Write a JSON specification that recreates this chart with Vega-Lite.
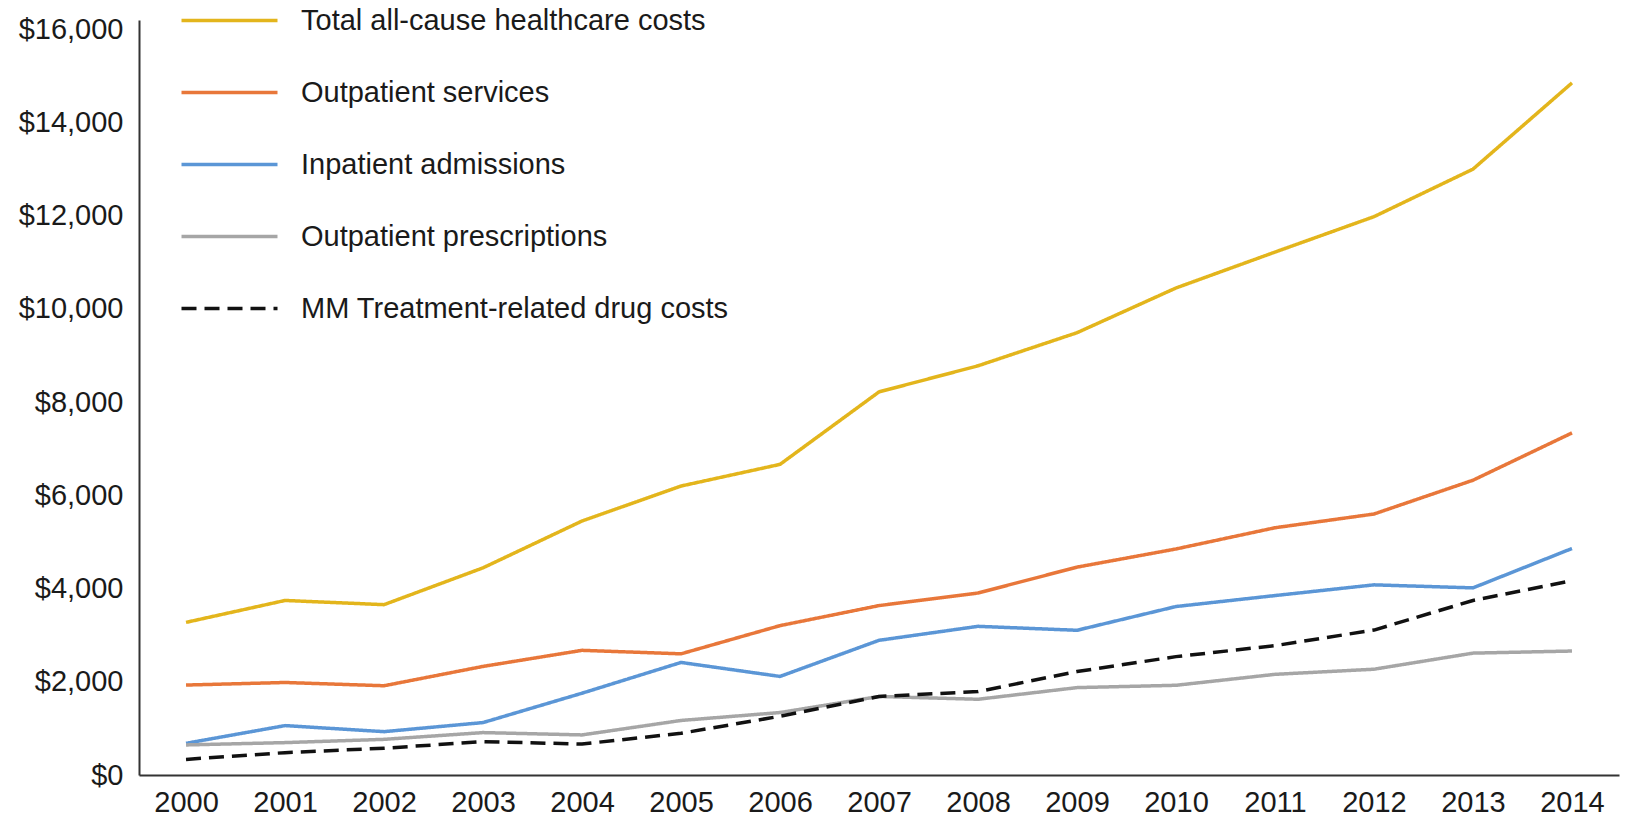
{
  "$schema": "https://vega.github.io/schema/vega-lite/v6.json",
  "width": 1480,
  "height": 755,
  "autosize": {"type": "none"},
  "padding": {"left": 139, "top": 20, "right": 8, "bottom": 42},
  "background": "white",
  "config": {"view": {"stroke": null}, "font": "Liberation Sans"},
  "data": {"values": [
    {"year": 2000, "series": "Total all-cause healthcare costs", "cost": 3275},
    {"year": 2001, "series": "Total all-cause healthcare costs", "cost": 3745},
    {"year": 2002, "series": "Total all-cause healthcare costs", "cost": 3655},
    {"year": 2003, "series": "Total all-cause healthcare costs", "cost": 4445},
    {"year": 2004, "series": "Total all-cause healthcare costs", "cost": 5450},
    {"year": 2005, "series": "Total all-cause healthcare costs", "cost": 6200},
    {"year": 2006, "series": "Total all-cause healthcare costs", "cost": 6665},
    {"year": 2007, "series": "Total all-cause healthcare costs", "cost": 8220},
    {"year": 2008, "series": "Total all-cause healthcare costs", "cost": 8780},
    {"year": 2009, "series": "Total all-cause healthcare costs", "cost": 9490},
    {"year": 2010, "series": "Total all-cause healthcare costs", "cost": 10450},
    {"year": 2011, "series": "Total all-cause healthcare costs", "cost": 11220},
    {"year": 2012, "series": "Total all-cause healthcare costs", "cost": 11980},
    {"year": 2013, "series": "Total all-cause healthcare costs", "cost": 13000},
    {"year": 2014, "series": "Total all-cause healthcare costs", "cost": 14850},
    {"year": 2000, "series": "Outpatient services", "cost": 1930},
    {"year": 2001, "series": "Outpatient services", "cost": 1985},
    {"year": 2002, "series": "Outpatient services", "cost": 1915},
    {"year": 2003, "series": "Outpatient services", "cost": 2330},
    {"year": 2004, "series": "Outpatient services", "cost": 2675},
    {"year": 2005, "series": "Outpatient services", "cost": 2600},
    {"year": 2006, "series": "Outpatient services", "cost": 3205},
    {"year": 2007, "series": "Outpatient services", "cost": 3635},
    {"year": 2008, "series": "Outpatient services", "cost": 3905},
    {"year": 2009, "series": "Outpatient services", "cost": 4460},
    {"year": 2010, "series": "Outpatient services", "cost": 4850},
    {"year": 2011, "series": "Outpatient services", "cost": 5305},
    {"year": 2012, "series": "Outpatient services", "cost": 5600},
    {"year": 2013, "series": "Outpatient services", "cost": 6325},
    {"year": 2014, "series": "Outpatient services", "cost": 7340},
    {"year": 2000, "series": "Inpatient admissions", "cost": 680},
    {"year": 2001, "series": "Inpatient admissions", "cost": 1060},
    {"year": 2002, "series": "Inpatient admissions", "cost": 930},
    {"year": 2003, "series": "Inpatient admissions", "cost": 1125},
    {"year": 2004, "series": "Inpatient admissions", "cost": 1755},
    {"year": 2005, "series": "Inpatient admissions", "cost": 2415},
    {"year": 2006, "series": "Inpatient admissions", "cost": 2115},
    {"year": 2007, "series": "Inpatient admissions", "cost": 2890},
    {"year": 2008, "series": "Inpatient admissions", "cost": 3190},
    {"year": 2009, "series": "Inpatient admissions", "cost": 3105},
    {"year": 2010, "series": "Inpatient admissions", "cost": 3615},
    {"year": 2011, "series": "Inpatient admissions", "cost": 3850},
    {"year": 2012, "series": "Inpatient admissions", "cost": 4080},
    {"year": 2013, "series": "Inpatient admissions", "cost": 4015},
    {"year": 2014, "series": "Inpatient admissions", "cost": 4860},
    {"year": 2000, "series": "Outpatient prescriptions", "cost": 645},
    {"year": 2001, "series": "Outpatient prescriptions", "cost": 695},
    {"year": 2002, "series": "Outpatient prescriptions", "cost": 765},
    {"year": 2003, "series": "Outpatient prescriptions", "cost": 910},
    {"year": 2004, "series": "Outpatient prescriptions", "cost": 860},
    {"year": 2005, "series": "Outpatient prescriptions", "cost": 1170},
    {"year": 2006, "series": "Outpatient prescriptions", "cost": 1340},
    {"year": 2007, "series": "Outpatient prescriptions", "cost": 1685},
    {"year": 2008, "series": "Outpatient prescriptions", "cost": 1625},
    {"year": 2009, "series": "Outpatient prescriptions", "cost": 1875},
    {"year": 2010, "series": "Outpatient prescriptions", "cost": 1925},
    {"year": 2011, "series": "Outpatient prescriptions", "cost": 2160},
    {"year": 2012, "series": "Outpatient prescriptions", "cost": 2270},
    {"year": 2013, "series": "Outpatient prescriptions", "cost": 2615},
    {"year": 2014, "series": "Outpatient prescriptions", "cost": 2660},
    {"year": 2000, "series": "MM Treatment-related drug costs", "cost": 335},
    {"year": 2001, "series": "MM Treatment-related drug costs", "cost": 480},
    {"year": 2002, "series": "MM Treatment-related drug costs", "cost": 575},
    {"year": 2003, "series": "MM Treatment-related drug costs", "cost": 715},
    {"year": 2004, "series": "MM Treatment-related drug costs", "cost": 665},
    {"year": 2005, "series": "MM Treatment-related drug costs", "cost": 895},
    {"year": 2006, "series": "MM Treatment-related drug costs", "cost": 1260},
    {"year": 2007, "series": "MM Treatment-related drug costs", "cost": 1685},
    {"year": 2008, "series": "MM Treatment-related drug costs", "cost": 1790},
    {"year": 2009, "series": "MM Treatment-related drug costs", "cost": 2220},
    {"year": 2010, "series": "MM Treatment-related drug costs", "cost": 2540},
    {"year": 2011, "series": "MM Treatment-related drug costs", "cost": 2775},
    {"year": 2012, "series": "MM Treatment-related drug costs", "cost": 3110},
    {"year": 2013, "series": "MM Treatment-related drug costs", "cost": 3745},
    {"year": 2014, "series": "MM Treatment-related drug costs", "cost": 4170}
  ]},
  "mark": {"type": "line", "strokeCap": "butt", "strokeJoin": "round"},
  "encoding": {
    "x": {
      "field": "year", "type": "ordinal",
      "scale": {"type": "point", "padding": 0.475},
      "axis": {"title": null, "labelAngle": 0, "labelFontSize": 29, "labelColor": "#1a1a1a", "ticks": false, "domainColor": "#333333", "domainWidth": 2, "labelPadding": 13, "grid": false}
    },
    "y": {
      "field": "cost", "type": "quantitative",
      "scale": {"domain": [0, 16200], "nice": false, "zero": true},
      "axis": {"title": null, "values": [0, 2000, 4000, 6000, 8000, 10000, 12000, 14000, 16000], "format": "$,.0f", "labelFontSize": 29, "labelColor": "#1a1a1a", "ticks": false, "grid": false, "domainColor": "#333333", "domainWidth": 2, "labelPadding": 16}
    },
    "color": {
      "field": "series", "type": "nominal",
      "scale": {
        "domain": ["Total all-cause healthcare costs", "Outpatient services", "Inpatient admissions", "Outpatient prescriptions", "MM Treatment-related drug costs"],
        "range": ["#E3B51C", "#E8773A", "#5B96D6", "#A6A6A6", "#111111"]
      },
      "legend": {"title": null, "orient": "none", "legendX": 76, "legendY": -14, "symbolType": "M-4,0H4", "symbolSize": 576, "symbolStrokeWidth": 4, "labelFontSize": 29, "labelColor": "#1a1a1a", "labelOffset": 57, "labelLimit": 800, "rowPadding": 42}
    },
    "strokeDash": {
      "field": "series", "type": "nominal",
      "scale": {
        "domain": ["Total all-cause healthcare costs", "Outpatient services", "Inpatient admissions", "Outpatient prescriptions", "MM Treatment-related drug costs"],
        "range": [[1, 0], [1, 0], [1, 0], [1, 0], [15, 8]]
      },
      "legend": {"title": null, "orient": "none", "legendX": 76, "legendY": -14, "symbolType": "M-4,0H4", "symbolSize": 576, "symbolStrokeWidth": 4, "labelFontSize": 29, "labelColor": "#1a1a1a", "labelOffset": 57, "labelLimit": 800, "rowPadding": 42}
    },
    "strokeWidth": {
      "field": "series", "type": "nominal",
      "scale": {
        "domain": ["Total all-cause healthcare costs", "Outpatient services", "Inpatient admissions", "Outpatient prescriptions", "MM Treatment-related drug costs"],
        "range": [3.5, 3.5, 3.5, 3.5, 4.5]
      },
      "legend": null
    }
  }
}
